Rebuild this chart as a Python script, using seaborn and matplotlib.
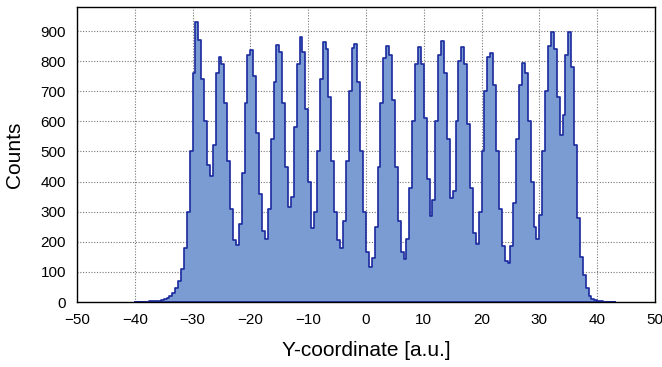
import numpy as np
import pandas as pd
import seaborn as sns
import matplotlib.pyplot as plt
from matplotlib.ticker import MultipleLocator

# histogram: bins of width 0.5 starting at -40
bin_start = -40.0
bin_width = 0.5
counts = [
    0, 1, 1, 1, 1, 2, 2, 3, 4, 6,                  # -40 .. -35
    9, 14, 20, 30, 45, 70, 110, 180, 300, 500,     # -35 .. -30
    760, 931, 870, 740, 600, 455, 420, 520, 760, 815,
    790, 660, 470, 310, 205, 190, 260, 430, 660, 820,
    837, 750, 560, 360, 235, 210, 310, 540, 730, 854,
    830, 660, 450, 315, 350, 580, 790, 881, 830, 640,
    400, 245, 300, 500, 740, 863, 840, 680, 470, 300,
    205, 180, 270, 470, 700, 845, 856, 730, 500, 300,
    165, 117, 145, 250, 450, 660, 810, 850, 820, 670,   # 0 .. 5
    450, 270, 165, 143, 210, 380, 600, 790, 848, 790,
    610, 410, 285, 340, 600, 820, 868, 760, 540, 345,
    370, 600, 800, 848, 790, 590, 380, 230, 192, 300,
    500, 700, 815, 826, 720, 500, 310, 185, 135, 129,
    185, 330, 540, 720, 793, 760, 600, 400, 250, 208,
    290, 500, 700, 850, 898, 840, 680, 555, 620, 820,
    896, 780, 520, 280, 150, 90, 45, 20, 10, 5,
    3, 2, 1, 1, 1, 0,
]

edges = bin_start + bin_width * np.arange(len(counts) + 1)
df = pd.DataFrame({"y": edges[:-1] + bin_width / 2, "n": counts})

sns.set_theme(style="white")
plt.rcParams["font.family"] = ["Liberation Sans", "DejaVu Sans"]

fig = plt.figure(figsize=(6.62, 3.67), dpi=100)
ax = fig.add_axes([0.1163, 0.1771, 0.8731, 0.8039])

sns.histplot(data=df, x="y", weights="n", bins=edges.tolist(), element="step",
             fill=True, color="#7b9bd3", alpha=1.0, edgecolor="#1a2a9e",
             linewidth=1.2, ax=ax)

ax.set_xlim(-50, 50)
ax.set_ylim(0, 980)
ax.xaxis.set_major_locator(MultipleLocator(10))
ax.xaxis.set_minor_locator(MultipleLocator(2))
ax.yaxis.set_major_locator(MultipleLocator(100))
ax.yaxis.set_minor_locator(MultipleLocator(20))

ax.set_axisbelow(True)
ax.grid(True, which="major", linestyle=(0, (1, 1.5)), color="#777777",
        linewidth=0.8)

ax.tick_params(which="both", direction="in", top=False, right=False,
               labelsize=11, colors="black")
ax.tick_params(axis="x", which="major", pad=8)
ax.tick_params(axis="y", which="major", pad=8)
ax.tick_params(which="major", length=6, width=0.9)
ax.tick_params(which="minor", length=3, width=0.8)

for s in ax.spines.values():
    s.set_color("black")
    s.set_linewidth(1.0)

ax.set_xlabel("Y-coordinate [a.u.]", fontsize=15, labelpad=10, color="black")
ax.set_ylabel("Counts", fontsize=15, labelpad=12, color="black")

fig.savefig("out.png", dpi=100)
